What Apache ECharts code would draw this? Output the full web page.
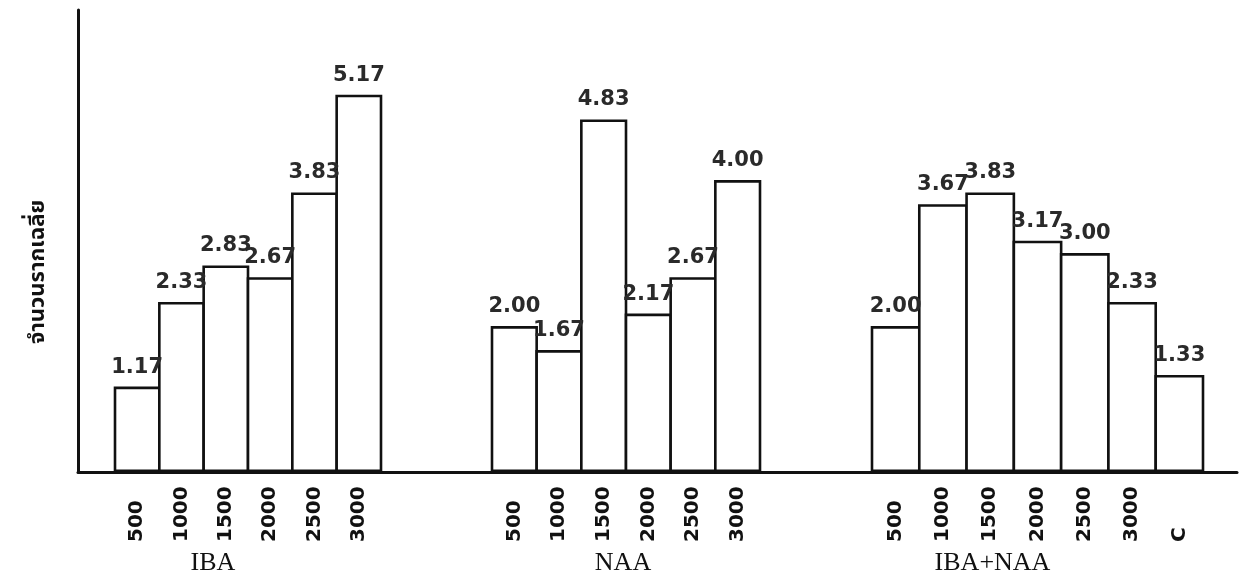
<!DOCTYPE html>
<html>
<head>
<meta charset="utf-8">
<script src="https://cdn.jsdelivr.net/npm/echarts@6/dist/echarts.min.js"></script>
<style>html,body{margin:0;padding:0;background:#fff}#c{width:1256px;height:585px}</style>
</head>
<body>
<div id="c"></div>
<script>
// ---- data ----
var yAxisName = 'จำนวนรากเฉลี่ย';
var groupNames = ['IBA', 'NAA', 'IBA+NAA'];
var ibaCats = ['500', '1000', '1500', '2000', '2500', '3000'];
var ibaVals = [1.17, 2.33, 2.83, 2.67, 3.83, 5.17];
var naaCats = ['500', '1000', '1500', '2000', '2500', '3000'];
var naaVals = [2.00, 1.67, 4.83, 2.17, 2.67, 4.00];
var mixCats = ['500', '1000', '1500', '2000', '2500', '3000', 'C'];
var mixVals = [2.00, 3.67, 3.83, 3.17, 3.00, 2.33, 1.33];

var yMax = 6.33;
var TOP = 10, BOTTOM = 113;
var BORDER = 2.6;

var chart = echarts.init(document.getElementById('c'));

function grid(left, right) {
  return { left: left, right: right, top: TOP, bottom: BOTTOM, containLabel: false, outerBoundsMode: 'none' };
}
function catAxis(idx, cats, name, pad) {
  return {
    type: 'category', gridIndex: idx, data: cats,
    axisLine: { show: false }, axisTick: { show: false },
    axisLabel: {
      rotate: 90, align: 'left', verticalAlign: 'middle', margin: 70, interval: 0,
      color: '#111', fontSize: 20, fontWeight: 'bold', fontFamily: 'DejaVu Sans'
    },
    name: name, nameLocation: 'middle', nameGap: 78,
    nameTextStyle: { fontFamily: 'Liberation Serif', fontSize: 26, color: '#111', padding: pad }
  };
}
function valAxis(idx) {
  return { type: 'value', gridIndex: idx, min: 0, max: yMax, show: false };
}
function barSeries(idx, vals, gridW) {
  var band = gridW / vals.length;
  var pct = ((band + BORDER) / band * 100).toFixed(2) + '%';
  return {
    type: 'bar', xAxisIndex: idx, yAxisIndex: idx, data: vals,
    barWidth: pct, barCategoryGap: '0%',
    itemStyle: { color: '#fff', borderColor: '#111', borderWidth: BORDER },
    label: {
      show: true, position: 'top', distance: 9,
      formatter: function (p) { return p.value.toFixed(2); },
      fontFamily: 'DejaVu Sans', fontWeight: 'bold', fontSize: 21, color: '#2a2a2a'
    },
    silent: true, animation: false
  };
}

var W = 1256;
var g1 = [115, 875], g2 = [492, 496], g3 = [872, 53];
var option = {
  backgroundColor: '#fff',
  animation: false,
  grid: [grid(78, 19), grid(g1[0], g1[1]), grid(g2[0], g2[1]), grid(g3[0], g3[1])],
  xAxis: [
    { type: 'category', gridIndex: 0, data: [''], axisLine: { show: true, lineStyle: { color: '#111', width: 3 } },
      axisTick: { show: false }, axisLabel: { show: false } },
    catAxis(1, ibaCats, groupNames[0], [0, 70, 0, 0]),
    catAxis(2, naaCats, groupNames[1], [0, 6, 0, 0]),
    catAxis(3, mixCats, groupNames[2], [0, 90, 0, 0])
  ],
  yAxis: [
    { type: 'value', gridIndex: 0, min: 0, max: yMax,
      axisLine: { show: true, lineStyle: { color: '#111', width: 3 } },
      axisTick: { show: false }, axisLabel: { show: false }, splitLine: { show: false },
      name: yAxisName, nameLocation: 'middle', nameRotate: 90, nameGap: 27,
      nameTextStyle: { fontFamily: 'Noto Sans Thai, Noto Sans, DejaVu Sans, sans-serif', fontSize: 22, fontWeight: 'bold', color: '#111', padding: [0, 62, 0, 0] } },
    valAxis(1), valAxis(2), valAxis(3)
  ],
  series: [
    barSeries(1, ibaVals, W - g1[0] - g1[1]),
    barSeries(2, naaVals, W - g2[0] - g2[1]),
    barSeries(3, mixVals, W - g3[0] - g3[1])
  ]
};
chart.setOption(option);
</script>
</body>
</html>
